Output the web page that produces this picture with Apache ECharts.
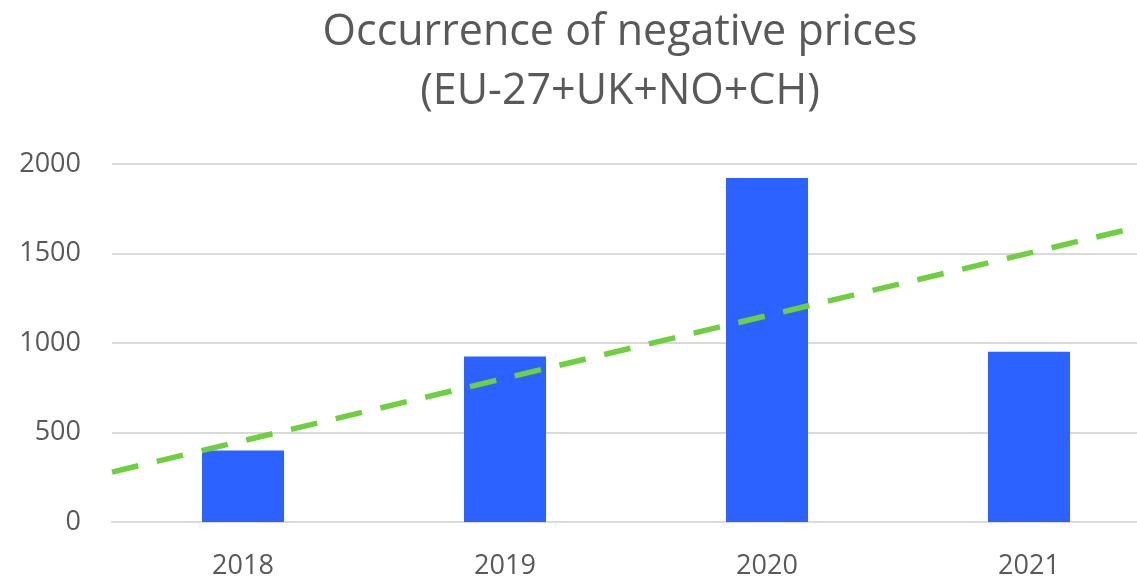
<!DOCTYPE html>
<html>
<head>
<meta charset="utf-8">
<script src="https://cdn.jsdelivr.net/npm/echarts@6/dist/echarts.min.js"></script>
<style>html,body{margin:0;padding:0;background:#fff;overflow:hidden;}#c{width:1190px;height:580px;}</style>
</head>
<body>
<div id="c"></div>
<script>
const categories = ['2018', '2019', '2020', '2021'];
const occurrences = [400, 925, 1922, 951];
const trendX = [-0.5, 3.5];
const trendY = [279, 1677];
const yTicks = { min: 0, max: 2000, interval: 500 };

const chart = echarts.init(document.getElementById('c'));
const font = '"Open Sans", "Noto Sans", sans-serif';
chart.setOption({
  animation: false,
  backgroundColor: '#ffffff',
  title: {
    text: 'Occurrence of negative prices\n(EU-27+UK+NO+CH)',
    left: 615, top: -2, textAlign: 'center',
    textStyle: { fontFamily: font, fontSize: 43, fontWeight: 'normal', color: '#595959', lineHeight: 59 }
  },
  grid: { left: 112, top: 164, width: 1048, height: 362, containLabel: false },
  xAxis: [{
    type: 'category', data: categories, boundaryGap: true,
    axisTick: { show: false },
    axisLine: { lineStyle: { color: '#d9d9d9', width: 2 } },
    axisLabel: { fontFamily: font, fontSize: 27, color: '#595959', margin: 31 }
  }, {
    type: 'value', min: trendX[0], max: trendX[1], show: false
  }],
  yAxis: {
    type: 'value', min: yTicks.min, max: yTicks.max, interval: yTicks.interval,
    axisLine: { show: false }, axisTick: { show: false },
    splitLine: { lineStyle: { color: '#d9d9d9', width: 2 } },
    axisLabel: { fontFamily: font, fontSize: 27, color: '#595959', margin: 31, formatter: v => String(v) }
  },
  series: [{
    type: 'bar', data: occurrences, barWidth: 82, xAxisIndex: 0,
    itemStyle: { color: '#2c62ff' }
  }, {
    type: 'line', xAxisIndex: 1, symbol: 'none', z: 5,
    data: trendX.map((x, i) => [x, trendY[i]]),
    lineStyle: { color: '#6fd03f', width: 5.5, type: [27, 19], cap: 'butt' }
  }]
});
</script>
</body>
</html>
